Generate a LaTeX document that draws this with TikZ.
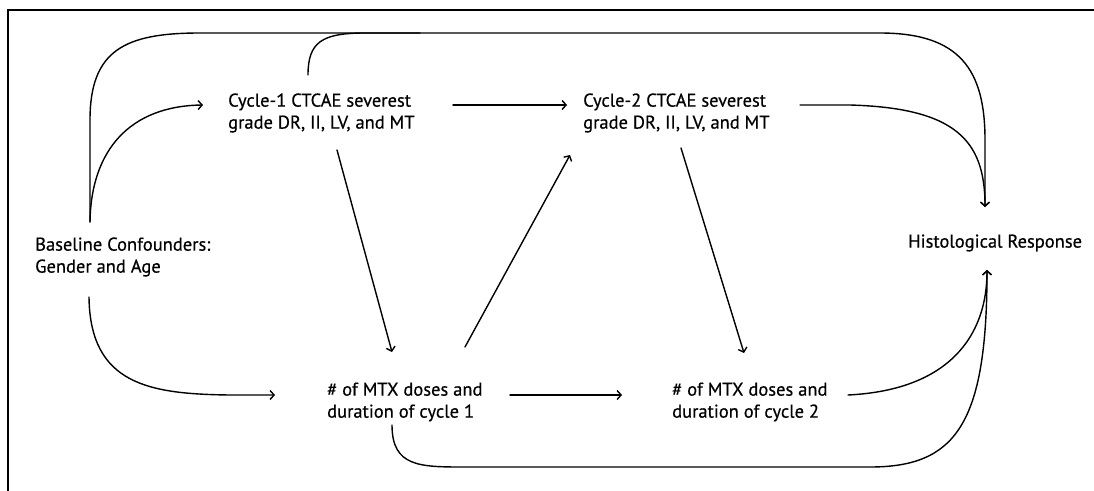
\documentclass[tikz,border=0pt]{standalone}
\usepackage{fontspec}
\setmainfont{PT Sans}[FakeBold=0.5]
\usetikzlibrary{arrows.meta}
\begin{document}
\begin{tikzpicture}[x=1pt,y=-1pt,
  lbl/.style={inner sep=0pt, anchor=west, align=left, font=\fontsize{18.5}{22}\selectfont},
  conn/.style={line width=1.4pt, line cap=round},
  arr/.style={conn, -{Straight Barb[length=4pt,width=9pt,line width=1.4pt]}},
  frame/.style={line width=2pt}]
\useasboundingbox (0,0) rectangle (1094,490);
% frame
\draw[frame] (8,491) -- (8,10) -- (1095,10);
% nodes
\node[lbl] (base) at (35,257) {Baseline Confounders:\\Gender and Age};
\node[lbl] (c1) at (228,113) {Cycle-1 CTCAE severest\\grade DR, II, LV, and MT};
\node[lbl] (c2) at (583,113) {Cycle-2 CTCAE severest\\grade DR, II, LV, and MT};
\node[lbl] (hist) at (908,243) {Histological Response};
\node[lbl] (d1) at (327,402) {\# of MTX doses and\\duration of cycle 1};
\node[lbl] (d2) at (672,402) {\# of MTX doses and\\duration of cycle 2};
% connector end points
\coordinate (baseTop) at (90,222);
\coordinate (baseBot) at (89,297);
\coordinate (c1Top) at (308,75);
\coordinate (c1Right) at (453,105);
\coordinate (c1Bot) at (337,150);
\coordinate (c1In) at (203,105);
\coordinate (c2Left) at (567,105);
\coordinate (c2Right) at (800,105);
\coordinate (c2Bot) at (681,148);
\coordinate (c2In) at (570,155);
\coordinate (d1Left) at (275,395);
\coordinate (d1Top) at (392,352);
\coordinate (d1Out) at (465,347);
\coordinate (d1Right) at (510,395);
\coordinate (d1Bot) at (392,425);
\coordinate (d2Left) at (622,395);
\coordinate (d2Top) at (744,353);
\coordinate (d2Right) at (848,395);
\coordinate (histTop) at (985,207);
\coordinate (histBot) at (987,270);
% connectors
\draw[arr] (baseTop) -- (90,120) .. controls (90,50) and (125,33) .. (200,33) -- (880,33) .. controls (960,33) and (985,70) .. (985,140) -- (histTop);
\draw[conn] (c1Top) .. controls (308,42) and (322,33) .. (365,33) -- (420,33);
\draw[arr] (baseTop) .. controls (91,150) and (130,106) .. (c1In);
\draw[arr] (baseBot) .. controls (90,385) and (150,394) .. (230,395) -- (d1Left);
\draw[arr] (c1Right) -- (c2Left);
\draw[arr] (c1Bot) -- (d1Top);
\draw[arr] (d1Out) -- (c2In);
\draw[arr] (c2Bot) -- (d2Top);
\draw[arr] (d1Right) -- (d2Left);
\draw[arr] (c2Right) -- (850,105) .. controls (955,108) and (985,140) .. (histTop);
\draw[arr] (d2Right) .. controls (950,390) and (987,335) .. (histBot);
\draw[arr] (d1Bot) .. controls (392,467) and (420,467) .. (465,467) -- (870,467) .. controls (955,467) and (987,425) .. (histBot);
\end{tikzpicture}
\end{document}
